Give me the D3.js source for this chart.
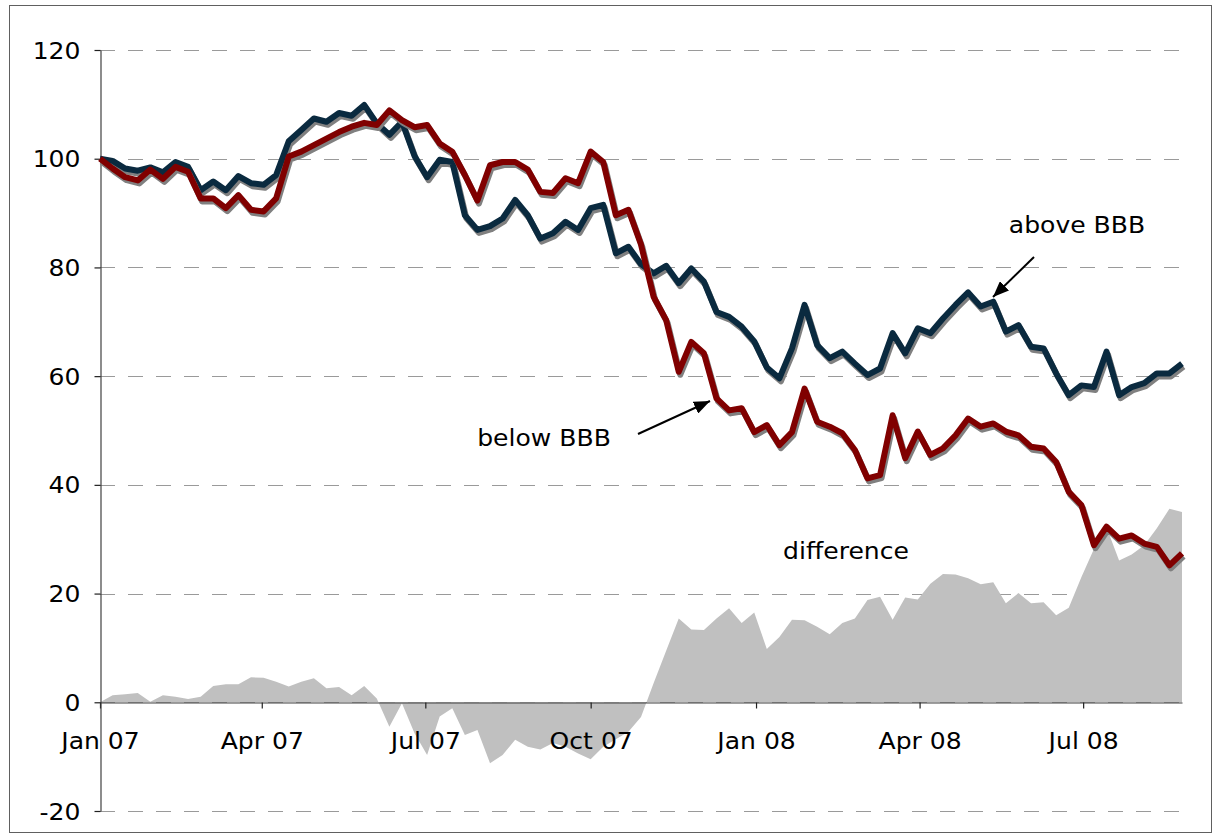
<!DOCTYPE html>
<html>
<head>
<meta charset="utf-8">
<script src="https://cdn.jsdelivr.net/npm/d3@7"></script>
<style>
  html, body { margin: 0; padding: 0; background: #fff; }
  svg { display: block; font-family: "DejaVu Sans", Verdana, sans-serif; }
</style>
</head>
<body>
<svg id="chart" width="1217" height="836"></svg>
<script>
// ---- data (weekly, starting first week of Jan 2007) ----
const startDate = new Date(2007, 0, 1);
const aboveBBB = [
  100, 99.6, 98.2, 97.8, 98.4, 97.5, 99.4, 98.5, 94.2, 95.8,
  94.2, 96.8, 95.5, 95.2, 97.0, 103.2, 105.3, 107.4, 106.8, 108.4,
  107.9, 109.9, 106.5, 104.4, 106.8, 100.5, 96.6, 99.8, 99.4, 89.6,
  86.9, 87.6, 89.0, 92.4, 89.6, 85.3, 86.3, 88.4, 86.9, 90.9,
  91.5, 82.6, 83.8, 80.6, 78.9, 80.3, 77.1, 79.8, 77.4, 71.8,
  70.9, 69.1, 66.4, 61.6, 59.6, 65.1, 73.1, 65.7, 63.3, 64.5,
  62.3, 60.2, 61.4, 67.9, 64.2, 68.8, 67.9, 70.6, 73.1, 75.4,
  72.8, 73.7, 68.2, 69.4, 65.4, 65.1, 60.5, 56.5, 58.3, 58.0,
  64.5, 56.5, 58.0, 58.7, 60.5, 60.5, 62.3
];
const belowBBB = [
  100, 98.2, 96.6, 96.0, 98.0, 96.3, 98.5, 97.6, 92.7, 92.7,
  90.9, 93.3, 90.6, 90.3, 92.7, 100.4, 101.3, 102.5, 103.7, 104.9,
  105.9, 106.6, 106.2, 108.9, 107.1, 105.8, 106.2, 102.8, 101.3, 97.0,
  92.3, 98.8, 99.4, 99.4, 98.0, 93.9, 93.7, 96.4, 95.5, 101.3,
  99.4, 89.6, 90.6, 84.2, 74.6, 70.3, 60.8, 66.3, 64.2, 55.9,
  53.7, 54.1, 49.7, 51.0, 47.3, 49.7, 57.7, 51.6, 50.7, 49.5,
  46.4, 41.2, 41.8, 52.8, 44.9, 49.8, 45.5, 46.7, 49.1, 52.2,
  50.7, 51.3, 49.8, 49.1, 47.0, 46.7, 44.2, 38.7, 36.3, 28.9,
  32.3, 30.1, 30.7, 29.2, 28.6, 25.2, 27.4
];
const difference = [
  0, 1.3, 1.5, 1.7, 0.1, 1.3, 1.0, 0.6, 1.0, 3.0,
  3.3, 3.3, 4.6, 4.5, 3.8, 2.9, 3.8, 4.4, 2.6, 2.8,
  1.3, 3.0, 0.7, -4.5, -0.2, -5.7, -9.7, -2.6, -1.1, -6.0,
  -5.1, -11.2, -9.7, -6.9, -8.2, -8.7, -7.5, -8.2, -9.4, -10.5,
  -8.2, -6.8, -5.4, -2.7, 3.5, 9.5, 15.4, 13.4, 13.3, 15.4,
  17.3, 14.6, 16.5, 9.8, 12.0, 15.2, 15.1, 13.9, 12.5, 14.6,
  15.4, 18.8, 19.4, 15.2, 19.3, 18.9, 21.8, 23.6, 23.5, 22.8,
  21.7, 22.1, 18.2, 20.1, 18.2, 18.4, 16.0, 17.4, 23.0, 28.2,
  32.2, 26.1, 27.2, 28.9, 32.0, 35.6, 35.0
];
const yTicks = [-20, 0, 20, 40, 60, 80, 100, 120];
const xTickDates = [
  new Date(2007, 0, 1), new Date(2007, 3, 1), new Date(2007, 6, 1), new Date(2007, 9, 1),
  new Date(2008, 0, 1), new Date(2008, 3, 1), new Date(2008, 6, 1)
];
const labels = [
  { text: "above BBB", x: 1077, y: 233 },
  { text: "below BBB", x: 544, y: 446 },
  { text: "difference", x: 846, y: 559 }
];
const arrows = [
  { x1: 1034, y1: 257, x2: 993, y2: 297 },
  { x1: 638, y1: 434, x2: 710, y2: 401 }
];

// ---- layout ----
const W = 1217, H = 836;
const plot = { left: 100, right: 1182, top: 50, bottom: 811 };
const FONT = 23;
const SX = 1.09; // horizontal stretch of the text seen in the reference

const dates = aboveBBB.map((_, i) => d3.timeDay.offset(startDate, 7 * i));

const svg = d3.select("#chart");

// outer frame
svg.append("rect")
  .attr("x", 9.5).attr("y", 5.5)
  .attr("width", W - 15).attr("height", H - 9)
  .attr("fill", "none").attr("stroke", "#606060").attr("stroke-width", 1);

const x = d3.scaleTime()
  .domain([startDate, dates[dates.length - 1]])
  .range([plot.left, plot.right]);
const y = d3.scaleLinear()
  .domain([-20, 120])
  .range([plot.bottom, plot.top]);

// gridlines (including the one at 0, under the area)
svg.append("g").selectAll("line")
  .data(yTicks)
  .join("line")
  .attr("x1", plot.left).attr("x2", plot.right + 1)
  .attr("y1", d => Math.round(y(d)) + 0.5).attr("y2", d => Math.round(y(d)) + 0.5)
  .attr("stroke", "#9a9a9a").attr("stroke-width", 1.2)
  .attr("stroke-dasharray", "15,13");

// difference area
const area = d3.area()
  .x((d, i) => x(dates[i]))
  .y0(y(0))
  .y1(d => y(d));
svg.append("path")
  .datum(difference)
  .attr("d", area)
  .attr("fill", "#c0c0c0");

// x axis
const xAxisG = svg.append("g")
  .attr("transform", `translate(0,${Math.round(y(0)) + 0.5})`)
  .call(d3.axisBottom(x)
    .tickValues(xTickDates)
    .tickFormat(d3.timeFormat("%b %y"))
    .tickSize(6)
    .tickSizeOuter(0));
xAxisG.select(".domain").attr("stroke", "#404040").attr("stroke-width", 1.2);
xAxisG.selectAll(".tick line").attr("stroke", "#202020").attr("stroke-width", 1.2);
xAxisG.selectAll(".tick text")
  .attr("font-family", "DejaVu Sans, Verdana, sans-serif")
  .attr("font-size", FONT)
  .attr("fill", "#000")
  .attr("dy", 0)
  .attr("y", 47)
  .attr("transform", `scale(${SX},1)`);

// y axis
const yAxisG = svg.append("g")
  .attr("transform", `translate(${plot.left + 0.5},0)`)
  .call(d3.axisLeft(y)
    .tickValues(yTicks)
    .tickFormat(d => String(d))
    .tickSize(6)
    .tickSizeOuter(0));
yAxisG.select(".domain").attr("stroke", "#404040").attr("stroke-width", 1.2);
yAxisG.selectAll(".tick line").attr("stroke", "#202020").attr("stroke-width", 1.2);
yAxisG.selectAll(".tick text")
  .attr("font-family", "DejaVu Sans, Verdana, sans-serif")
  .attr("font-size", FONT)
  .attr("fill", "#000")
  .attr("x", -20 / SX)
  .attr("dy", "0.35em")
  .attr("transform", `scale(${SX},1)`);

// lines with shadows
const line = d3.line()
  .x((d, i) => x(dates[i]))
  .y(d => y(d));

function drawSeries(values, color) {
  svg.append("path")
    .datum(values)
    .attr("d", line)
    .attr("fill", "none")
    .attr("stroke", "#808080")
    .attr("stroke-width", 6)
    .attr("stroke-linejoin", "round")
    .attr("transform", "translate(1.5,3)");
  svg.append("path")
    .datum(values)
    .attr("d", line)
    .attr("fill", "none")
    .attr("stroke", color)
    .attr("stroke-width", 6)
    .attr("stroke-linejoin", "round");
}
drawSeries(aboveBBB, "#0a2a3f");
drawSeries(belowBBB, "#800000");

// annotations
svg.append("defs").append("marker")
  .attr("id", "arrowhead")
  .attr("viewBox", "0 0 10 10")
  .attr("refX", 10).attr("refY", 5)
  .attr("markerWidth", 16).attr("markerHeight", 13)
  .attr("markerUnits", "userSpaceOnUse")
  .attr("orient", "auto")
  .attr("preserveAspectRatio", "none")
  .append("path")
  .attr("d", "M0,0 L10,5 L0,10 z")
  .attr("fill", "#000");

svg.append("g").selectAll("line")
  .data(arrows)
  .join("line")
  .attr("x1", d => d.x1).attr("y1", d => d.y1)
  .attr("x2", d => d.x2).attr("y2", d => d.y2)
  .attr("stroke", "#000").attr("stroke-width", 2)
  .attr("marker-end", "url(#arrowhead)");

svg.append("g").selectAll("text")
  .data(labels)
  .join("text")
  .attr("transform", d => `translate(${d.x},${d.y}) scale(${SX},1)`)
  .attr("text-anchor", "middle")
  .attr("font-size", FONT)
  .attr("fill", "#000")
  .text(d => d.text);
</script>
</body>
</html>
